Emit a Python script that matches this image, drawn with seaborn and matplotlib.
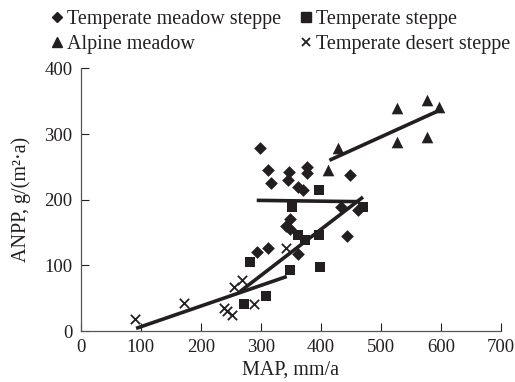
import numpy as np
import pandas as pd
import seaborn as sns
import matplotlib.pyplot as plt
from matplotlib.lines import Line2D

# MAP (mm/a) and ANPP (g/(m2 a)), per grassland type
meadow_map = [298, 312, 316, 347, 345, 376, 376, 362, 370, 448, 293, 312, 362,
              349, 342, 348, 443, 434, 462]
meadow_anpp = [279, 245, 226, 242, 230, 250, 240, 220, 215, 237, 121, 126, 117,
               170, 160, 155, 144, 189, 184]

steppe_map = [272, 282, 309, 348, 398, 351, 362, 373, 396, 396, 470]
steppe_anpp = [41, 105, 53, 93, 98, 189, 146, 138, 146, 215, 189]

alpine_map = [412, 429, 526, 526, 576, 576, 597]
alpine_anpp = [245, 278, 339, 288, 352, 296, 341]

desert_map = [90, 172, 239, 243, 252, 255, 268, 289, 342]
desert_anpp = [19, 43, 35, 31, 25, 67, 78, 41, 126]

# fitted lines (start / end points)
meadow_fit_x = [293, 465]
meadow_fit_y = [199, 197]
steppe_fit_x = [265, 470]
steppe_fit_y = [60, 204]
alpine_fit_x = [414, 597]
alpine_fit_y = [260, 336]
desert_fit_x = [92, 343]
desert_fit_y = [4, 83]

labels = ["Temperate meadow steppe", "Alpine meadow",
          "Temperate steppe", "Temperate desert steppe"]

ink = "#231f20"

sns.set_style("ticks")
plt.rcParams['font.family'] = ['Liberation Serif', 'DejaVu Serif']

fig = plt.figure(figsize=(5.15, 3.82), dpi=100)
ax = fig.add_axes([0.157, 0.1335, 0.816, 0.6875])

sns.scatterplot(x=meadow_map, y=meadow_anpp, marker="D", s=42, color=ink,
                linewidth=0, ax=ax)
sns.scatterplot(x=steppe_map, y=steppe_anpp, marker="s", s=55, color=ink,
                linewidth=0, ax=ax)
sns.scatterplot(x=alpine_map, y=alpine_anpp, marker="^", s=70, color=ink,
                linewidth=0, ax=ax)
sns.scatterplot(x=desert_map, y=desert_anpp, marker="x", s=45, color=ink,
                linewidth=1.3, ax=ax)

for fx, fy in [(meadow_fit_x, meadow_fit_y), (steppe_fit_x, steppe_fit_y),
               (alpine_fit_x, alpine_fit_y), (desert_fit_x, desert_fit_y)]:
    ax.plot(fx, fy, color=ink, lw=2.6, solid_capstyle="butt")

ax.set_xlim(0, 700)
ax.set_ylim(0, 400)
ax.set_xticks(range(0, 701, 100))
ax.set_yticks(range(0, 401, 100))
ax.tick_params(direction="in", length=6, width=0.8, labelsize=13.5,
               colors=ink, pad=6)
for sp in ["top", "right"]:
    ax.spines[sp].set_visible(False)
for sp in ["left", "bottom"]:
    ax.spines[sp].set_color("#555555")
    ax.spines[sp].set_linewidth(0.9)

ax.set_xlabel("MAP, mm/a", fontsize=14.5, color=ink, labelpad=3)
ax.set_ylabel("ANPP, g/(m²·a)", fontsize=14.5, color=ink, labelpad=10)

handles = [
    Line2D([], [], ls="", marker="D", ms=5.5, color=ink),
    Line2D([], [], ls="", marker="^", ms=7, color=ink),
    Line2D([], [], ls="", marker="s", ms=6.5, color=ink),
    Line2D([], [], ls="", marker="x", ms=6, mew=1.3, color=ink),
]
fig.legend(handles, labels, ncol=2, loc="upper left",
           bbox_to_anchor=(0.093, 0.985), frameon=False, fontsize=14.5,
           handlelength=0.5, handletextpad=0.25, columnspacing=1.0,
           labelspacing=0.3, labelcolor=ink, borderpad=0.2,
           borderaxespad=0)

fig.savefig("out.png", dpi=100)
